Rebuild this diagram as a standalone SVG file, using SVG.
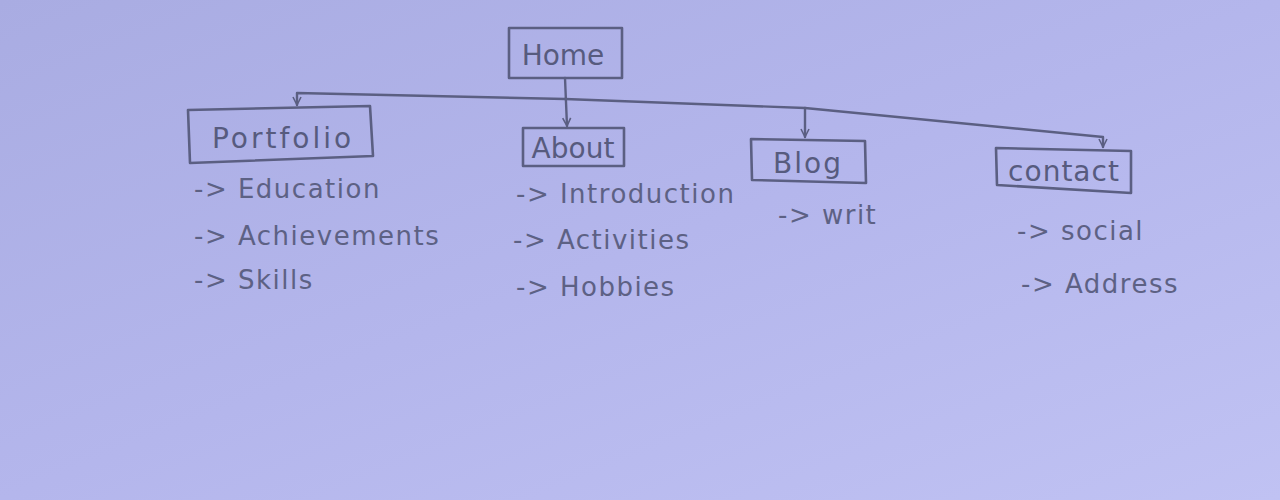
<svg xmlns="http://www.w3.org/2000/svg" width="1280" height="500" viewBox="0 0 1280 500">
<defs>
<linearGradient id="paper" x1="0" y1="0" x2="1" y2="1">
<stop offset="0" stop-color="#a9ace2"/>
<stop offset="0.5" stop-color="#b4b6ec"/>
<stop offset="1" stop-color="#c0c2f3"/>
</linearGradient>
<marker id="arr" viewBox="0 0 10 10" refX="9" refY="5" markerWidth="10" markerHeight="10" orient="auto" markerUnits="userSpaceOnUse">
<path d="M1,1 L9,5 L1,9" fill="none" stroke="#5b5f82" stroke-width="1.6"/>
</marker>
</defs>
<style>
.box{fill:none;stroke:#5b5f82;stroke-width:2.6;stroke-linejoin:round}
.lbl{font-family:"DejaVu Sans","Liberation Sans",sans-serif;fill:#575b7e;font-size:28px;text-anchor:middle}
.item{font-family:"DejaVu Sans","Liberation Sans",sans-serif;fill:#5d6184;font-size:26px;letter-spacing:1.5px}
.con{fill:none;stroke:#5b5f82;stroke-width:2.4;stroke-linejoin:round;stroke-linecap:round}
</style>
<rect width="1280" height="500" fill="url(#paper)"/>
<g id="connectors">
<path class="con" d="M565,78 L567,126" marker-end="url(#arr)"/>
<path class="con" d="M565,99 L297,93 L297,105" marker-end="url(#arr)"/>
<path class="con" d="M565,99 L805,108 L805,137" marker-end="url(#arr)"/>
<path class="con" d="M805,108 L1103,137 L1103,147" marker-end="url(#arr)"/>
</g>
<g id="home">
<rect class="box" x="509" y="28" width="113" height="50"/>
<text class="lbl" x="563" y="65" font-size="30">Home</text>
</g>
<g id="portfolio">
<path class="box" d="M188,110 L370,106 L373,156 L190,163 Z"/>
<text class="lbl" x="283" y="148" font-size="31" letter-spacing="3">Portfolio</text>
<text class="item" x="194" y="198">-&gt;  Education</text>
<text class="item" x="194" y="245">-&gt; Achievements</text>
<text class="item" x="194" y="289">-&gt; Skills</text>
</g>
<g id="about">
<rect class="box" x="523" y="128" width="101" height="38"/>
<text class="lbl" x="573" y="158" font-size="28">About</text>
<text class="item" x="516" y="203">-&gt; Introduction</text>
<text class="item" x="513" y="249">-&gt; Activities</text>
<text class="item" x="516" y="296">-&gt; Hobbies</text>
</g>
<g id="blog">
<path class="box" d="M751,139 L865,141 L866,183 L752,180 Z"/>
<text class="lbl" x="808" y="173" font-size="30" letter-spacing="2">Blog</text>
<text class="item" x="778" y="224">-&gt; writ</text>
</g>
<g id="contact">
<path class="box" d="M996,148 L1131,151 L1131,193 L997,185 Z"/>
<text class="lbl" x="1064" y="181" font-size="28" letter-spacing="1">contact</text>
<text class="item" x="1017" y="240">-&gt; social</text>
<text class="item" x="1021" y="293">-&gt; Address</text>
</g>
</svg>
